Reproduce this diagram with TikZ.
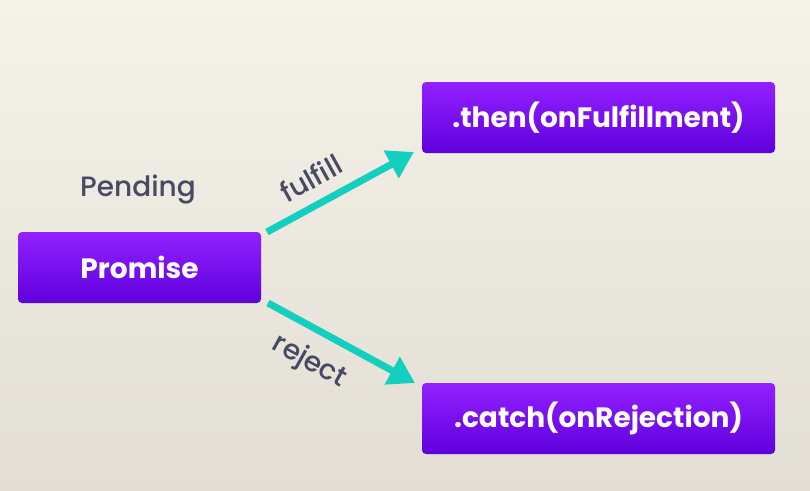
\documentclass[tikz,border=0pt]{standalone}
\usepackage{fontspec}
\setmainfont{Poppins}
\newfontfamily\medfont{Poppins Medium}
\usetikzlibrary{arrows.meta}
\definecolor{bgtop}{HTML}{F5F2E9}
\definecolor{bgbot}{HTML}{E2DED4}
\definecolor{boxtop}{HTML}{9320FF}
\definecolor{boxbot}{HTML}{5F00DD}
\definecolor{teal}{HTML}{12CFC0}
\definecolor{lbl}{HTML}{474A64}
\tikzset{
  pbox/.style={rounded corners=4pt, top color=boxtop, bottom color=boxbot, draw=none,
    text=white, font=\bfseries\fontsize{28}{32}\selectfont, inner sep=0pt},
  conn/.style={draw=teal, line width=7pt, -{Triangle[length=26pt,width=30pt]}, shorten <=0pt},
  lbltext/.style={text=lbl, font=\medfont\fontsize{28}{32}\selectfont, inner sep=0pt},
}
\begin{document}
\begin{tikzpicture}[x=1pt,y=-1pt]
\useasboundingbox (0,0) rectangle (810,490);
\fill[top color=bgtop, bottom color=bgbot] (0,0) rectangle (810,490);
\node[pbox, minimum width=243pt, minimum height=71pt] (promise) at (139.5,267.5) {Promise};
\node[pbox, minimum width=353pt, minimum height=71pt] (then) at (598.5,117.5) {.then(onFulfillment)};
\node[pbox, minimum width=353pt, minimum height=71pt] (catch) at (598.5,418.5) {.catch(onRejection)};
\node[lbltext] (pending) at (138,190) {Pending};
\coordinate (fs) at (267,232);
\coordinate (fe) at (414,152);
\coordinate (rs) at (268,303);
\coordinate (re) at (415,383);
\draw[conn] (fs) -- (fe);
\draw[conn] (rs) -- (re);
\node[lbltext, rotate=29] (fulfill) at (311,178) {fulfill};
\node[lbltext, rotate=-29] (reject) at (309,362) {reject};
\end{tikzpicture}
\end{document}
